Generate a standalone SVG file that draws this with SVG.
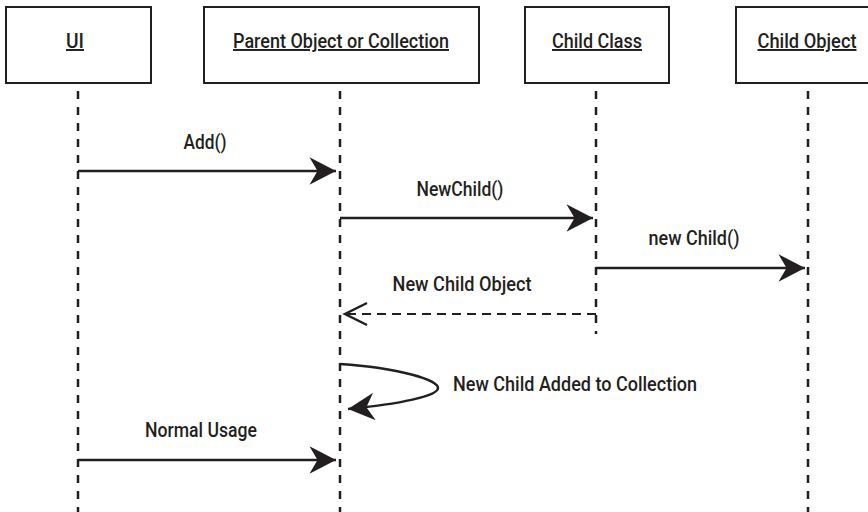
<svg xmlns="http://www.w3.org/2000/svg" width="868" height="512" viewBox="0 0 868 512">
<style>
.box{fill:#fff;stroke:#231f20;stroke-width:2}
.life{stroke:#231f20;stroke-width:2.5;stroke-dasharray:8 8;fill:none}
.msg{stroke:#231f20;stroke-width:2.5;fill:none}
.ret{stroke:#231f20;stroke-width:2;fill:none;stroke-dasharray:9 6}
text{font-family:Roboto,"Liberation Sans",sans-serif;font-weight:500;font-size:19.5px;fill:#231f20;text-anchor:middle}
.hdr{text-decoration:underline}
</style>
<defs>
<marker id="ah" markerUnits="userSpaceOnUse" markerWidth="30" markerHeight="30" viewBox="-24 -13 26 26" refX="0" refY="0" orient="auto">
<path d="M0,0 L-23,-12 L-16,0 L-23,12 Z" fill="#231f20"/>
</marker>
</defs>
<g id="lifelines">
<line class="life" x1="78" y1="91" x2="78" y2="512"/>
<line class="life" x1="340" y1="91" x2="340" y2="512"/>
<line class="life" x1="596" y1="91" x2="596" y2="334"/>
<line class="life" x1="808" y1="91" x2="808" y2="512"/>
</g>
<g id="ui"><rect class="box" x="6" y="7" width="145" height="76"/><text class="hdr" x="75" y="48" textLength="18" lengthAdjust="spacingAndGlyphs">UI</text></g>
<g id="parent"><rect class="box" x="204" y="7" width="275" height="76"/><text class="hdr" x="341" y="48" textLength="216" lengthAdjust="spacingAndGlyphs">Parent Object or Collection</text></g>
<g id="childclass"><rect class="box" x="525" y="7" width="144" height="76"/><text class="hdr" x="597" y="48" textLength="90" lengthAdjust="spacingAndGlyphs">Child Class</text></g>
<g id="childobject"><rect class="box" x="736" y="7" width="140" height="76"/><text class="hdr" x="807" y="48" textLength="99" lengthAdjust="spacingAndGlyphs">Child Object</text></g>
<g id="connectors">
<line class="msg" x1="78" y1="171" x2="336" y2="171" marker-end="url(#ah)"/>
<text x="205" y="149" textLength="43" lengthAdjust="spacingAndGlyphs">Add()</text>
<line class="msg" x1="340" y1="218" x2="593" y2="218" marker-end="url(#ah)"/>
<text x="460" y="196" textLength="87" lengthAdjust="spacingAndGlyphs">NewChild()</text>
<line class="msg" x1="596" y1="268" x2="805" y2="268" marker-end="url(#ah)"/>
<text x="694" y="245" textLength="91" lengthAdjust="spacingAndGlyphs">new Child()</text>
<line class="ret" x1="596" y1="314" x2="346" y2="314"/>
<polyline class="msg" stroke-width="2" points="367,303 345,314 367,325"/>
<text x="462" y="291" textLength="139" lengthAdjust="spacingAndGlyphs">New Child Object</text>
<path class="msg" d="M340,364 C400,368 438,380 438,388 C438,396 400,404 348,409" marker-end="url(#ah)"/>
<text x="453" y="391" style="text-anchor:start" textLength="244" lengthAdjust="spacingAndGlyphs">New Child Added to Collection</text>
<line class="msg" x1="78" y1="460" x2="336" y2="460" marker-end="url(#ah)"/>
<text x="201" y="437" textLength="112" lengthAdjust="spacingAndGlyphs">Normal Usage</text>
</g>
</svg>
